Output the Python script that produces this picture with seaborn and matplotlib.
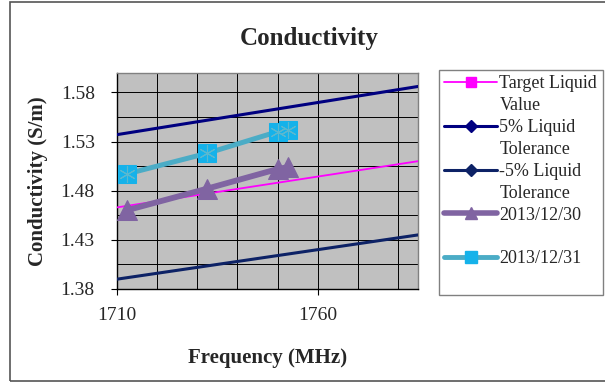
import matplotlib
matplotlib.use("Agg")
import matplotlib.pyplot as plt
import seaborn as sns
import numpy as np
from matplotlib.lines import Line2D
from matplotlib.patches import Rectangle
from matplotlib.ticker import MultipleLocator, FixedLocator

# ---- data ----
ref_freq = [1710, 1785]
target = [1.463, 1.510]
tol_plus = [1.537, 1.586]
tol_minus = [1.390, 1.435]

meas_freq = [1712.4, 1732.4, 1750.0, 1752.6]
d_1230 = [1.460, 1.482, 1.502, 1.504]
d_1231 = [1.497, 1.518, 1.540, 1.542]

series_labels = ["Target Liquid\nValue", "5% Liquid\nTolerance", "-5% Liquid\nTolerance",
                 "2013/12/30", "2013/12/31"]
y_ticks = [1.38, 1.43, 1.48, 1.53, 1.58]
x_ticks = [1710, 1760]

sns.set_style("white")
plt.rcParams['font.family'] = ['Liberation Serif', 'DejaVu Serif']

fig = plt.figure(figsize=(6.05, 3.83), dpi=100)
ax = fig.add_axes([117/605, 1-289/383, (418-117)/605, (289-72.7)/383])
ax.set_facecolor('#C0C0C0')

c_target = '#FF00FF'
c_plus = '#000080'
c_minus = '#0D2266'
c_1230 = '#8064A2'
c_1231_line = '#4BACC6'
c_1231_mk = '#15B2EA'

sns.lineplot(x=ref_freq, y=tol_plus, ax=ax, color=c_plus, lw=2.2, legend=False, zorder=3)
sns.lineplot(x=ref_freq, y=tol_minus, ax=ax, color=c_minus, lw=2.2, legend=False, zorder=3)
sns.lineplot(x=ref_freq, y=target, ax=ax, color=c_target, lw=1.3, legend=False, zorder=3)
sns.lineplot(x=meas_freq, y=d_1230, ax=ax, color=c_1230, lw=4.2, marker='^', markersize=14,
             markeredgecolor=c_1230, markerfacecolor=c_1230, legend=False, zorder=4, sort=False)
sns.lineplot(x=meas_freq, y=d_1231, ax=ax, color=c_1231_line, lw=3.6, marker='s', markersize=13,
             markeredgecolor=c_1231_mk, markerfacecolor=c_1231_mk, legend=False, zorder=5, sort=False)
ax.plot(meas_freq, d_1231, linestyle='none', marker=(6, 2, 0), markersize=12,
        markeredgecolor='#5BB8CF', markeredgewidth=0.8, zorder=6)

ax.set_xlim(1710, 1785)
ax.set_ylim(1.38, 1.6)
ax.xaxis.set_major_locator(FixedLocator(x_ticks))
ax.xaxis.set_minor_locator(MultipleLocator(10))
ax.yaxis.set_major_locator(FixedLocator(y_ticks))
ax.yaxis.set_minor_locator(FixedLocator([t + 0.025 for t in y_ticks]))
ax.yaxis.set_major_formatter(plt.FuncFormatter(lambda v, p: f"{v:.2f}"))
ax.grid(True, which='both', color='black', lw=0.7, zorder=1)
ax.set_axisbelow(True)
ax.tick_params(axis='both', which='major', labelsize=14, length=4, color='black',
               direction='out', left=True, bottom=True)
ax.tick_params(axis='x', which='major', pad=9)
ax.tick_params(axis='y', which='major', pad=12)
ax.tick_params(axis='both', which='minor', length=0)
for s in ['left', 'bottom']:
    ax.spines[s].set_color('black')
    ax.spines[s].set_linewidth(1.0)
for s in ['top', 'right']:
    ax.spines[s].set_color('#808080')
    ax.spines[s].set_linewidth(1.0)

ax.set_xlabel("Frequency (MHz)", fontsize=15, fontweight='bold', labelpad=17)
ax.set_ylabel("Conductivity (S/m)", fontsize=15, fontweight='bold', labelpad=9)
fig.text(309/605, 1-38/383, "Conductivity", fontsize=18, fontweight='bold',
         ha='center', va='center')

# outer border
fig.patches.append(Rectangle((10/605, 1-381/383), 1.2, (381-2)/383, transform=fig.transFigure,
                             fill=False, edgecolor='#555555', lw=1.2))

# legend (two-line labels: continuation lines as blank-handle rows)
blank = Line2D([], [], linestyle='none')
h_target = Line2D([], [], color=c_target, lw=1.3, marker='s', markersize=7,
                  markerfacecolor=c_target, markeredgecolor=c_target)
h_plus = Line2D([], [], color=c_plus, lw=2.2, marker='D', markersize=6,
                markerfacecolor=c_plus, markeredgecolor=c_plus)
h_minus = Line2D([], [], color=c_minus, lw=2.2, marker='D', markersize=6,
                 markerfacecolor=c_minus, markeredgecolor=c_minus)
h_1230 = Line2D([], [], color=c_1230, lw=4, marker='^', markersize=8,
                markerfacecolor=c_1230, markeredgecolor=c_1230)
h_1231 = Line2D([], [], color=c_1231_line, lw=3.5, marker='s', markersize=8,
                markerfacecolor=c_1231_mk, markeredgecolor=c_1231_mk)
handles, labels = [], []
for h, lab in zip([h_target, h_plus, h_minus, h_1230, h_1231], series_labels):
    parts = lab.split("\n")
    if len(parts) == 1:
        parts.append(" ")
    handles.append(h); labels.append(parts[0])
    for p in parts[1:]:
        handles.append(blank); labels.append(p)
leg = fig.legend(handles, labels, loc='upper left', bbox_to_anchor=(439/605, 1-70/383),
                 fontsize=13, frameon=True, fancybox=False, edgecolor='#808080',
                 handlelength=2.9, handletextpad=0.15, labelspacing=0.27,
                 borderpad=0.3, borderaxespad=0, framealpha=1)
leg.get_frame().set_linewidth(1.0)
fig.savefig("out.png", dpi=100)
